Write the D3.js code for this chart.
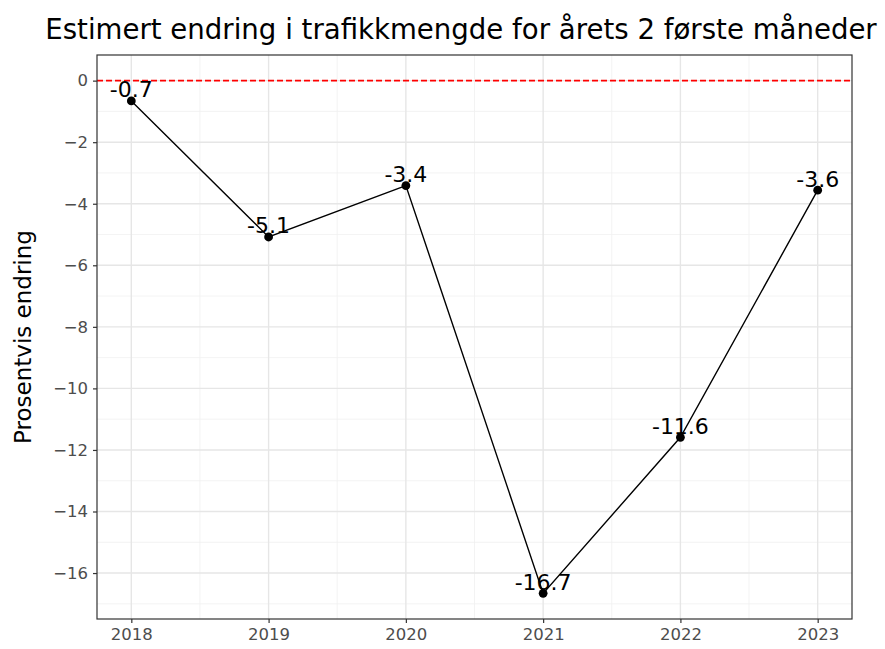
<!DOCTYPE html>
<html>
<head>
<meta charset="utf-8">
<script src="https://cdn.jsdelivr.net/npm/d3@7"></script>
<style>
  body { margin: 0; background: #fff; }
  text { font-family: "DejaVu Sans", sans-serif; }
</style>
</head>
<body>
<div id="chart"></div>
<script>
// data
var years = [2018, 2019, 2020, 2021, 2022, 2023];
var change = [-0.66, -5.08, -3.41, -16.66, -11.59, -3.56];
var yTicks = [0, -2, -4, -6, -8, -10, -12, -14, -16];
var yMinor = [-1, -3, -5, -7, -9, -11, -13, -15, -17];
var xMinor = [2018.5, 2019.5, 2020.5, 2021.5, 2022.5];

var W = 885, H = 649;
// panel edges (note: "top" is taken by window.top)
var pL = 97, pR = 852, pT = 55, pB = 619;

var svg = d3.select("#chart").append("svg")
  .attr("width", W).attr("height", H);

// ggplot-style 5% expansion
var xr = d3.extent(years), xe = (xr[1] - xr[0]) * 0.05;
var x = d3.scaleLinear().domain([xr[0] - xe, xr[1] + xe]).range([pL, pR]);
var ylo = d3.min(change), yhi = 0, ye = (yhi - ylo) * 0.05;
var y = d3.scaleLinear().domain([ylo - ye, yhi + ye]).range([pB, pT]);

// minor grid
svg.append("g").selectAll("line").data(xMinor).enter().append("line")
  .attr("x1", d => x(d)).attr("x2", d => x(d)).attr("y1", pT).attr("y2", pB)
  .style("stroke", "#f0f0f0").style("stroke-width", 0.8);
svg.append("g").selectAll("line").data(yMinor).enter().append("line")
  .attr("x1", pL).attr("x2", pR).attr("y1", d => y(d)).attr("y2", d => y(d))
  .style("stroke", "#f0f0f0").style("stroke-width", 0.8);

// major grid
svg.append("g").selectAll("line").data(years).enter().append("line")
  .attr("x1", d => x(d)).attr("x2", d => x(d)).attr("y1", pT).attr("y2", pB)
  .style("stroke", "#e6e6e6").style("stroke-width", 1.4);
svg.append("g").selectAll("line").data(yTicks).enter().append("line")
  .attr("x1", pL).attr("x2", pR).attr("y1", d => y(d)).attr("y2", d => y(d))
  .style("stroke", "#e6e6e6").style("stroke-width", 1.4);

// zero reference line
svg.append("line")
  .attr("x1", pL).attr("x2", pR).attr("y1", y(0)).attr("y2", y(0))
  .style("stroke", "#ff0000").style("stroke-width", 1.6)
  .style("stroke-dasharray", "6,3");

// axes
var xAxis = d3.axisBottom(x).tickValues(years).tickFormat(d3.format("d"))
  .tickSize(4).tickPadding(5);
var yAxis = d3.axisLeft(y).tickValues(yTicks)
  .tickFormat(d => d < 0 ? "\u2212" + Math.abs(d) : d)
  .tickSize(4).tickPadding(5);

var gx = svg.append("g").attr("transform", "translate(0," + pB + ")").call(xAxis);
var gy = svg.append("g").attr("transform", "translate(" + pL + ",0)").call(yAxis);
[gx, gy].forEach(function (g) {
  g.select(".domain").remove();
  g.selectAll("line").style("stroke", "#333").style("stroke-width", 1.2);
  g.selectAll("text").style("fill", "#4d4d4d").style("font-size", "16.5px")
    .style("font-family", "DejaVu Sans");
});

// panel border
svg.append("rect")
  .attr("x", pL).attr("y", pT).attr("width", pR - pL).attr("height", pB - pT)
  .style("fill", "none").style("stroke", "#333").style("stroke-width", 1.2);

// line + points
var pts = years.map((d, i) => ({ yr: d, v: change[i] }));
svg.append("path").datum(pts)
  .attr("d", d3.line().x(d => x(d.yr)).y(d => y(d.v)))
  .style("fill", "none").style("stroke", "#000").style("stroke-width", 1.4);
svg.append("g").selectAll("circle").data(pts).enter().append("circle")
  .attr("cx", d => x(d.yr)).attr("cy", d => y(d.v)).attr("r", 4.4)
  .style("fill", "#000");

// value labels
svg.append("g").selectAll("text").data(pts).enter().append("text")
  .attr("x", d => x(d.yr)).attr("y", d => y(d.v) - 11)
  .attr("text-anchor", "middle").attr("dominant-baseline", "central")
  .style("font-size", "22px").style("fill", "#000")
  .text(d => d.v.toFixed(1));

// titles
svg.append("text")
  .attr("x", 461).attr("y", 39)
  .attr("text-anchor", "middle")
  .style("font-size", "27.6px").style("fill", "#000")
  .text("Estimert endring i trafikkmengde for årets 2 første måneder");

svg.append("text")
  .attr("transform", "translate(23," + (pT + pB) / 2 + ") rotate(-90)")
  .attr("text-anchor", "middle").attr("dominant-baseline", "central")
  .style("font-size", "23px").style("fill", "#000")
  .text("Prosentvis endring");
</script>
</body>
</html>
